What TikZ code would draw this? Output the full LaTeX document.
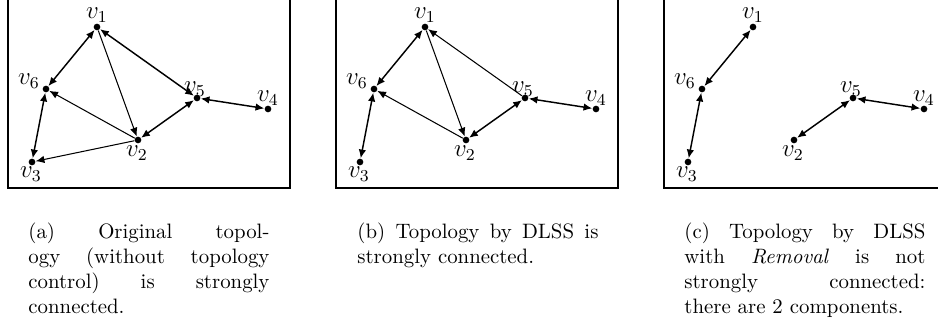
\documentclass[tikz,border=0pt]{standalone}
\usetikzlibrary{arrows.meta}
\begin{document}
\begin{tikzpicture}[x=0.48pt,y=-0.48pt,
  vtx/.style={circle,fill=black,inner sep=0pt,minimum size=3.2pt},
  vlbl/.style={inner sep=0pt,font=\large},
  bi/.style={{Latex[length=4.2pt,width=3.6pt]}-{Latex[length=4.2pt,width=3.6pt]},line width=0.7pt},
  uni/.style={-{Latex[length=4.2pt,width=3.6pt]},line width=0.5pt},
  frame/.style={line width=1.3pt},
  captxt/.style={anchor=base west,inner sep=0pt,font=\normalsize}]
\useasboundingbox (0,0) rectangle (938,326);
\newcommand\placeverts[2]{%
  \node[vtx] (#1v1) at (#2+97,27) {};
  \node[vtx] (#1v6) at (#2+46,89) {};
  \node[vtx] (#1v5) at (#2+197,98) {};
  \node[vtx] (#1v4) at (#2+268,109) {};
  \node[vtx] (#1v2) at (#2+138,140) {};
  \node[vtx] (#1v3) at (#2+32,162) {};
  \node[vlbl] (#1l1) at (#2+97,15) {$v_1$};
  \node[vlbl] (#1l6) at (#2+29,81) {$v_6$};
  \node[vlbl] (#1l5) at (#2+195,89) {$v_5$};
  \node[vlbl] (#1l4) at (#2+268,98) {$v_4$};
  \node[vlbl] (#1l2) at (#2+137,153) {$v_2$};
  \node[vlbl] (#1l3) at (#2+31,174) {$v_3$};}
% frames
\draw[frame] (8,-20) rectangle (290,188);
\draw[frame] (336,-20) rectangle (618,188);
\draw[frame] (664,-20) rectangle (946,188);
% panel a
\placeverts{a}{0}
\draw[bi] (av1) -- (av6);
\draw[bi] (av1) -- (av5);
\draw[uni] (av1) -- (av2);
\draw[uni] (av2) -- (av6);
\draw[bi] (av2) -- (av5);
\draw[bi] (av5) -- (av4);
\draw[bi] (av6) -- (av3);
\draw[uni] (av2) -- (av3);
% panel b
\placeverts{b}{328}
\draw[bi] (bv1) -- (bv6);
\draw[uni] (bv5) -- (bv1);
\draw[uni] (bv1) -- (bv2);
\draw[uni] (bv2) -- (bv6);
\draw[bi] (bv2) -- (bv5);
\draw[bi] (bv5) -- (bv4);
\draw[bi] (bv6) -- (bv3);
% panel c
\placeverts{c}{656}
\draw[bi] (cv1) -- (cv6);
\draw[bi] (cv6) -- (cv3);
\draw[bi] (cv2) -- (cv5);
\draw[bi] (cv5) -- (cv4);
% captions
\def\cw{115.7pt}
\node[captxt] (ca1) at (28,239) {\makebox[\cw][s]{(a) Original topol-}};
\node[captxt] (ca2) at (28,264) {\makebox[\cw][s]{ogy (without topology}};
\node[captxt] (ca3) at (28,289) {\makebox[\cw][s]{control) is strongly}};
\node[captxt] (ca4) at (28,314) {connected.};
\node[captxt] (cb1) at (357,239) {\makebox[\cw][s]{(b) Topology by DLSS is}};
\node[captxt] (cb2) at (357,264) {strongly connected.};
\node[captxt] (cc1) at (684,239) {\makebox[\cw][s]{(c) Topology by DLSS}};
\node[captxt] (cc2) at (684,264) {\makebox[\cw][s]{with \textit{Removal} is not}};
\node[captxt] (cc3) at (684,289) {\makebox[\cw][s]{strongly connected:}};
\node[captxt] (cc4) at (684,314) {there are 2 components.};
\end{tikzpicture}
\end{document}
